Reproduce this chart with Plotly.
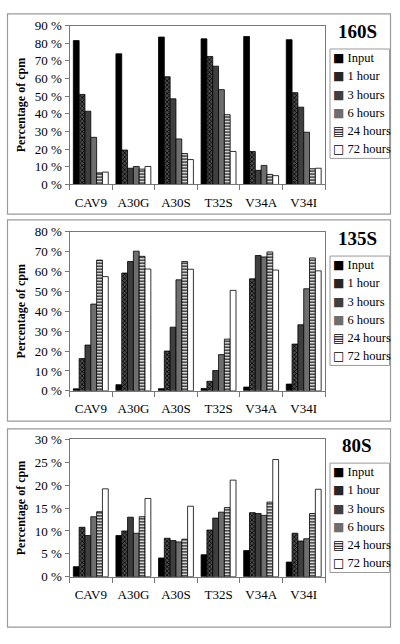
import plotly.graph_objects as go

categories = ["CAV9", "A30G", "A30S", "T32S", "V34A", "V34I"]
series_names = ["Input", "1 hour", "3 hours", "6 hours", "24 hours", "72 hours"]

# 160S panel (percentage of cpm), one list per series across categories
s160_input = [81.5, 74.0, 83.5, 82.5, 83.8, 82.0]
s160_1h = [51.0, 19.5, 61.0, 72.5, 18.7, 52.0]
s160_3h = [41.5, 9.2, 48.5, 67.0, 8.0, 43.8]
s160_6h = [26.7, 10.2, 25.8, 53.7, 10.8, 29.6]
s160_24h = [6.6, 8.7, 17.5, 39.5, 5.7, 8.9]
s160_72h = [7.0, 10.2, 14.1, 18.7, 5.0, 9.2]

# 135S panel
s135_input = [1.0, 3.1, 1.1, 1.2, 1.9, 3.4]
s135_1h = [16.2, 59.2, 20.0, 4.8, 56.3, 23.5]
s135_3h = [23.0, 65.0, 32.0, 10.2, 68.0, 33.2]
s135_6h = [43.6, 70.2, 55.8, 18.2, 67.3, 51.3]
s135_24h = [65.7, 67.6, 65.0, 26.0, 69.8, 66.8]
s135_72h = [57.4, 61.2, 61.1, 50.5, 60.7, 60.3]

# 80S panel
s80_input = [2.2, 9.0, 4.1, 4.8, 5.7, 3.2]
s80_1h = [10.8, 10.0, 8.4, 10.2, 14.0, 9.5]
s80_3h = [9.0, 13.0, 7.9, 12.8, 13.8, 7.8]
s80_6h = [13.1, 9.5, 7.6, 14.1, 13.4, 8.3]
s80_24h = [14.2, 13.1, 8.2, 15.1, 16.3, 13.8]
s80_72h = [19.2, 17.1, 15.4, 21.1, 25.6, 19.1]

panels = [
    ("160S", [s160_input, s160_1h, s160_3h, s160_6h, s160_24h, s160_72h], 90, 10),
    ("135S", [s135_input, s135_1h, s135_3h, s135_6h, s135_24h, s135_72h], 80, 10),
    ("80S", [s80_input, s80_1h, s80_3h, s80_6h, s80_24h, s80_72h], 30, 5),
]

W, H = 400, 644
FONT = "Liberation Serif"

def px(x):
    return x / W

def py(y):
    return 1 - y / H

styles = [
    dict(color="#000000", pattern=dict(shape="")),
    dict(color="#3a3a3a", pattern=dict(shape="x", bgcolor="#4a4a4a", fgcolor="#000000", size=3, solidity=0.45, fillmode="replace")),
    dict(color="#3f3f3f", pattern=dict(shape="")),
    dict(color="#6e6e6e", pattern=dict(shape="")),
    dict(color="#ffffff", pattern=dict(shape="-", bgcolor="#ffffff", fgcolor="#000000", size=3, solidity=0.45, fillmode="replace")),
    dict(color="#ffffff", pattern=dict(shape="")),
]
# legend swatch glyphs (text) and their colours
swatch_glyphs = ["■", "■", "■", "■", "▤", "□"]
swatch_colors = ["#000000", "#262626", "#3f3f3f", "#6e6e6e", "#000000", "#000000"]

# plot-area geometry in pixels: (top, bottom)
plot_rows = [(19, 181.7), (230, 393), (442.7, 583.3)]
outer_boxes = [(7, 212), (218, 424), (432, 635)]
legend_boxes = [(43, 155), (255, 367), (467, 579)]
title_ys = [25, 237, 449]
x_left, x_right = 69.5, 325

fig = go.Figure()
layout = dict(
    width=W, height=H, margin=dict(l=0, r=0, t=0, b=0),
    paper_bgcolor="white", plot_bgcolor="white",
    barmode="group", bargap=0.18, bargroupgap=0,
    font=dict(family=FONT, size=13, color="#000"),
    shapes=[], annotations=[], showlegend=False,
)

for i, (title, data, ymax, dtick) in enumerate(panels):
    suf = "" if i == 0 else str(i + 1)
    for j, name in enumerate(series_names):
        st = styles[j]
        fig.add_trace(go.Bar(
            x=categories, y=data[j], name=name,
            xaxis="x" + suf, yaxis="y" + suf,
            marker=dict(color=st["color"], pattern=st["pattern"],
                        line=dict(color="#000", width=0.8)),
        ))
    top, bot = plot_rows[i]
    layout["xaxis" + suf] = dict(
        domain=[px(x_left), px(x_right)], anchor="y" + suf,
        showline=True, linecolor="#777", linewidth=1, mirror=True,
        ticks="outside", tickson="boundaries", ticklen=5, tickcolor="#777",
        showgrid=False, tickfont=dict(family=FONT, size=13),
        tickangle=0, ticklabelstandoff=6,
    )
    layout["yaxis" + suf] = dict(
        domain=[py(bot), py(top)], anchor="x" + suf,
        range=[0, ymax], dtick=dtick, ticksuffix=" %",
        showline=True, linecolor="#777", linewidth=1, mirror=True,
        ticks="outside", ticklen=4, tickcolor="#777",
        showgrid=False, zeroline=False,
        tickfont=dict(family=FONT, size=13),
        title=dict(text="<b>Percentage of cpm</b>", font=dict(family=FONT, size=12), standoff=6),
    )
    o_top, o_bot = outer_boxes[i]
    layout["shapes"].append(dict(
        type="rect", xref="paper", yref="paper",
        x0=px(7.5), x1=px(390.5), y0=py(o_bot), y1=py(o_top),
        line=dict(color="#9a9a9a", width=1.2), layer="below",
    ))
    l_top, l_bot = legend_boxes[i]
    layout["shapes"].append(dict(
        type="rect", xref="paper", yref="paper",
        x0=px(330), x1=px(389.5), y0=py(l_bot), y1=py(l_top),
        line=dict(color="#9a9a9a", width=1), fillcolor="white", layer="below",
    ))
    step = (l_bot - l_top) / 6.0
    for j, name in enumerate(series_names):
        yc = l_top + step * (j + 0.5)
        layout["annotations"].append(dict(
            text='<span style="font-family:DejaVu Sans;font-size:12px;color:%s">%s</span>%s'
                 % (swatch_colors[j], swatch_glyphs[j], " " + name),
            xref="paper", yref="paper", x=px(330.5), y=py(yc),
            xanchor="left", yanchor="middle", showarrow=False,
            font=dict(family=FONT, size=12.5, color="#000"),
        ))
    layout["annotations"].append(dict(
        text="<b>%s</b>" % title, xref="paper", yref="paper",
        x=px(357), y=py(title_ys[i]), xanchor="center", yanchor="middle",
        showarrow=False, font=dict(family=FONT, size=19, color="#000"),
    ))

fig.update_layout(**layout)
fig.write_html("out.html", config={"displayModeBar": False},
               post_script="document.body.style.margin='0px';")
